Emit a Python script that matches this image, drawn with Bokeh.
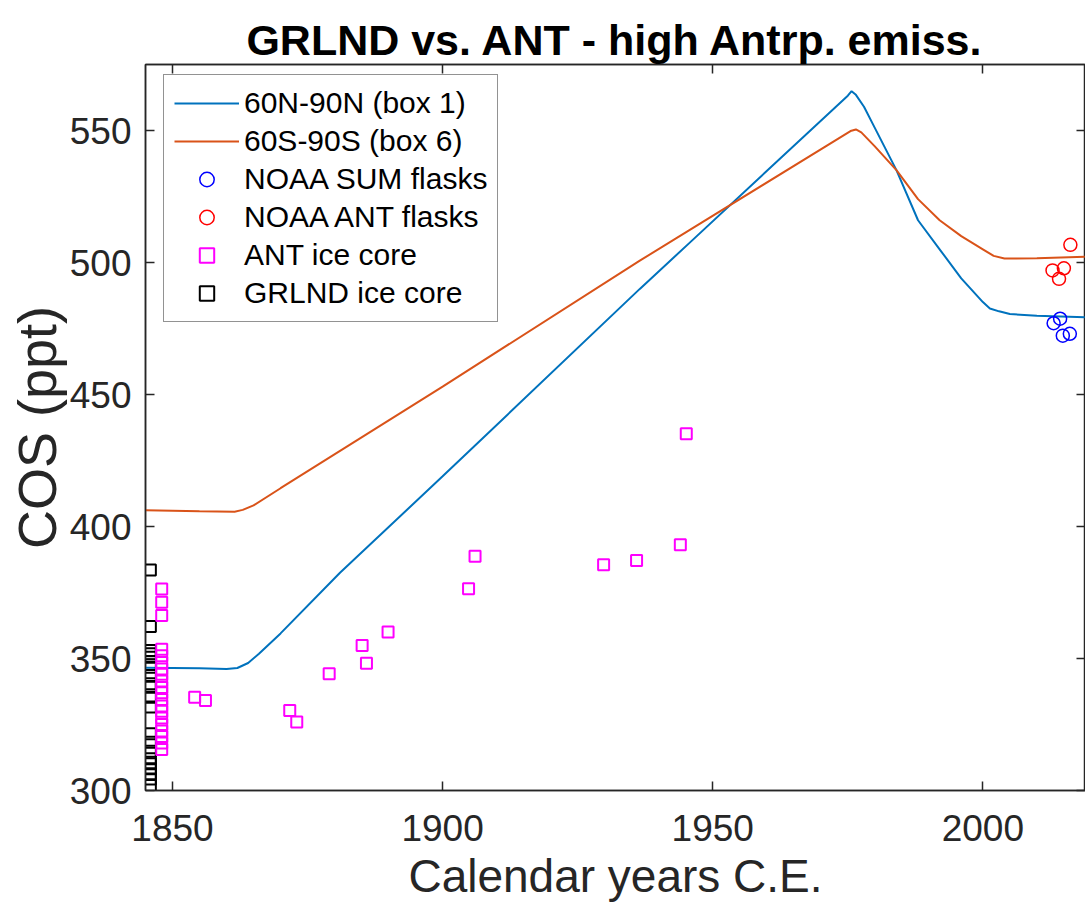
from bokeh.plotting import figure
from bokeh.models import LinearAxis, Legend, LegendItem, FixedTicker, Range1d
from bokeh.embed import file_html
from bokeh.resources import INLINE

# ---------------- data ----------------
title_text = "GRLND vs. ANT - high Antrp. emiss."
x_label = "Calendar years C.E."
y_label = "COS (ppt)"
x_ticks = [1850, 1900, 1950, 2000]
y_ticks = [300, 350, 400, 450, 500, 550]

box1_years = [1845, 1855, 1860, 1862, 1864, 1866, 1870, 1881, 1900, 1936.5, 1946,
              1975, 1975.7, 1976.5, 1978, 1980, 1984, 1988, 1992, 1996, 2000, 2001.3,
              2003, 2005, 2010, 2019]
box1_vals = [346.5, 346.3, 346.0, 346.4, 348.3, 351.8, 359.5, 382.5, 419.0, 490.0, 508.0,
             563.2, 564.9, 563.5, 559.0, 551.0, 535.0, 516.0, 505.0, 494.0, 485.0, 482.6,
             481.5, 480.5, 479.8, 479.3]

box6_years = [1845, 1855, 1861.5, 1863, 1865, 1870, 1900, 1936.5, 1975.5, 1976.5, 1977.5,
              1980, 1984, 1988, 1992, 1996, 2000, 2002, 2004, 2010, 2019]
box6_vals = [406.2, 405.8, 405.6, 406.3, 408.0, 414.5, 453.0, 500.7, 549.8, 550.4, 549.3,
             544.0, 535.0, 524.0, 516.0, 510.0, 505.0, 502.5, 501.5, 501.6, 502.2]

sum_flask_years = [2013.1, 2014.3, 2014.8, 2016.1]
sum_flask_vals = [477.0, 478.7, 472.3, 473.0]

ant_flask_years = [2012.9, 2014.1, 2015.0, 2016.2]
ant_flask_vals = [497.0, 493.8, 497.8, 506.7]

ant_core_years = [1848.0, 1848.0, 1848.0, 1848.0, 1848.0, 1848.0, 1848.0, 1848.0, 1848.0,
                  1848.0, 1848.0, 1848.0, 1848.0, 1848.0, 1848.0, 1848.0, 1848.0, 1848.0,
                  1848.0, 1848.0,
                  1854.1, 1856.1, 1871.7, 1873.0, 1879.0, 1885.1, 1885.9, 1889.9, 1904.8,
                  1906.0, 1929.8, 1935.9, 1944.0, 1945.1]
ant_core_vals = [376.3, 371.3, 366.3, 353.5, 351.0, 348.5, 346.0, 344.0, 341.5,
                 339.0, 337.0, 334.5, 332.0, 330.0, 327.5, 325.0, 322.5, 320.5,
                 318.0, 315.5,
                 335.3, 334.1, 330.3, 325.9, 344.2, 354.9, 348.2, 360.0, 376.4,
                 388.7, 385.5, 387.1, 393.1, 435.1]

grl_core_years = [1845.9] * 20
grl_core_vals = [383.5, 362.1, 353.0, 351.8, 350.5, 346.7, 343.6, 340.4, 339.1, 335.3,
                 331.6, 321.5, 318.3, 314.9, 312.0, 310.1, 308.2, 306.3, 304.4, 301.9]

series_names = ["60N-90N (box 1)", "60S-90S (box 6)", "NOAA SUM flasks",
                "NOAA ANT flasks", "ANT ice core", "GRLND ice core"]

# ---------------- styling ----------------
FONT = "Liberation Sans"
AXC = "#262626"
C_BOX1 = "#0072BD"
C_BOX6 = "#D95319"

p = figure(width=1085, height=906,
           x_range=Range1d(1845, 2019), y_range=Range1d(300, 575),
           output_backend="svg", toolbar_location=None,
           min_border_left=145, min_border_right=0,
           min_border_top=64, min_border_bottom=116,
           title=title_text)

p.title.text_font = FONT
p.title.text_font_size = "43px"
p.title.text_font_style = "bold"
p.title.text_color = "#000000"
p.title.align = "center"
p.title.standoff = 2

p.xgrid.visible = False
p.ygrid.visible = False
p.outline_line_color = AXC
p.outline_line_width = 1.5
p.background_fill_color = "white"
p.border_fill_color = "white"


def style_axis(ax, ticks, show_labels):
    ax.ticker = FixedTicker(ticks=ticks)
    ax.minor_tick_line_color = None
    ax.major_tick_in = 9
    ax.major_tick_out = 0
    ax.axis_line_color = AXC
    ax.axis_line_width = 1.5
    ax.major_tick_line_color = AXC
    ax.major_tick_line_width = 1.5
    ax.major_label_text_font = FONT
    if show_labels:
        ax.major_label_text_color = AXC
        ax.major_label_text_font_size = "37px"
    else:
        ax.major_label_text_color = None
        ax.major_label_text_font_size = "1px"
        ax.major_label_standoff = 0


style_axis(p.xaxis[0], x_ticks, True)
style_axis(p.yaxis[0], y_ticks, True)
p.xaxis[0].major_label_standoff = 24
p.yaxis[0].major_label_standoff = 14
p.xaxis[0].axis_label = x_label
p.yaxis[0].axis_label = y_label
for ax in (p.xaxis[0], p.yaxis[0]):
    ax.axis_label_text_font = FONT
    ax.axis_label_text_font_style = "normal"
    ax.axis_label_text_color = AXC
p.xaxis[0].axis_label_text_font_size = "46px"
p.xaxis[0].axis_label_standoff = 6
p.yaxis[0].axis_label_text_font_size = "54px"
p.yaxis[0].axis_label_standoff = 0

top_ax = LinearAxis()
style_axis(top_ax, x_ticks, False)
p.add_layout(top_ax, "above")
right_ax = LinearAxis()
style_axis(right_ax, y_ticks, False)
p.add_layout(right_ax, "right")

# ---------------- glyphs ----------------
r_box1 = p.line(box1_years, box1_vals, line_color=C_BOX1, line_width=2)
r_box6 = p.line(box6_years, box6_vals, line_color=C_BOX6, line_width=2)
r_grl = p.scatter(grl_core_years, grl_core_vals, marker="square", size=11,
                  fill_color=None, line_color="#000000", line_width=2)
r_antc = p.scatter(ant_core_years, ant_core_vals, marker="square", size=11,
                   fill_color=None, line_color="#FF00FF", line_width=2)
r_sum = p.scatter(sum_flask_years, sum_flask_vals, marker="circle", size=13,
                  fill_color=None, line_color="#0000FF", line_width=1.5)
r_antf = p.scatter(ant_flask_years, ant_flask_vals, marker="circle", size=13,
                   fill_color=None, line_color="#FF0000", line_width=1.5)

legend = Legend(items=[
    LegendItem(label=series_names[0], renderers=[r_box1]),
    LegendItem(label=series_names[1], renderers=[r_box6]),
    LegendItem(label=series_names[2], renderers=[r_sum]),
    LegendItem(label=series_names[3], renderers=[r_antf]),
    LegendItem(label=series_names[4], renderers=[r_antc]),
    LegendItem(label=series_names[5], renderers=[r_grl]),
])
legend.location = (18, 468)
legend.label_text_font = FONT
legend.label_text_font_size = "30px"
legend.label_text_color = "#000000"
legend.label_height = 36
legend.glyph_height = 36
legend.glyph_width = 65
legend.label_standoff = 5
legend.spacing = 2
legend.padding = 10
legend.margin = 0
legend.border_line_color = AXC
legend.border_line_width = 1.5
legend.background_fill_color = "white"
legend.background_fill_alpha = 1.0
p.add_layout(legend)

open("out.html", "w").write(file_html(p, INLINE))
